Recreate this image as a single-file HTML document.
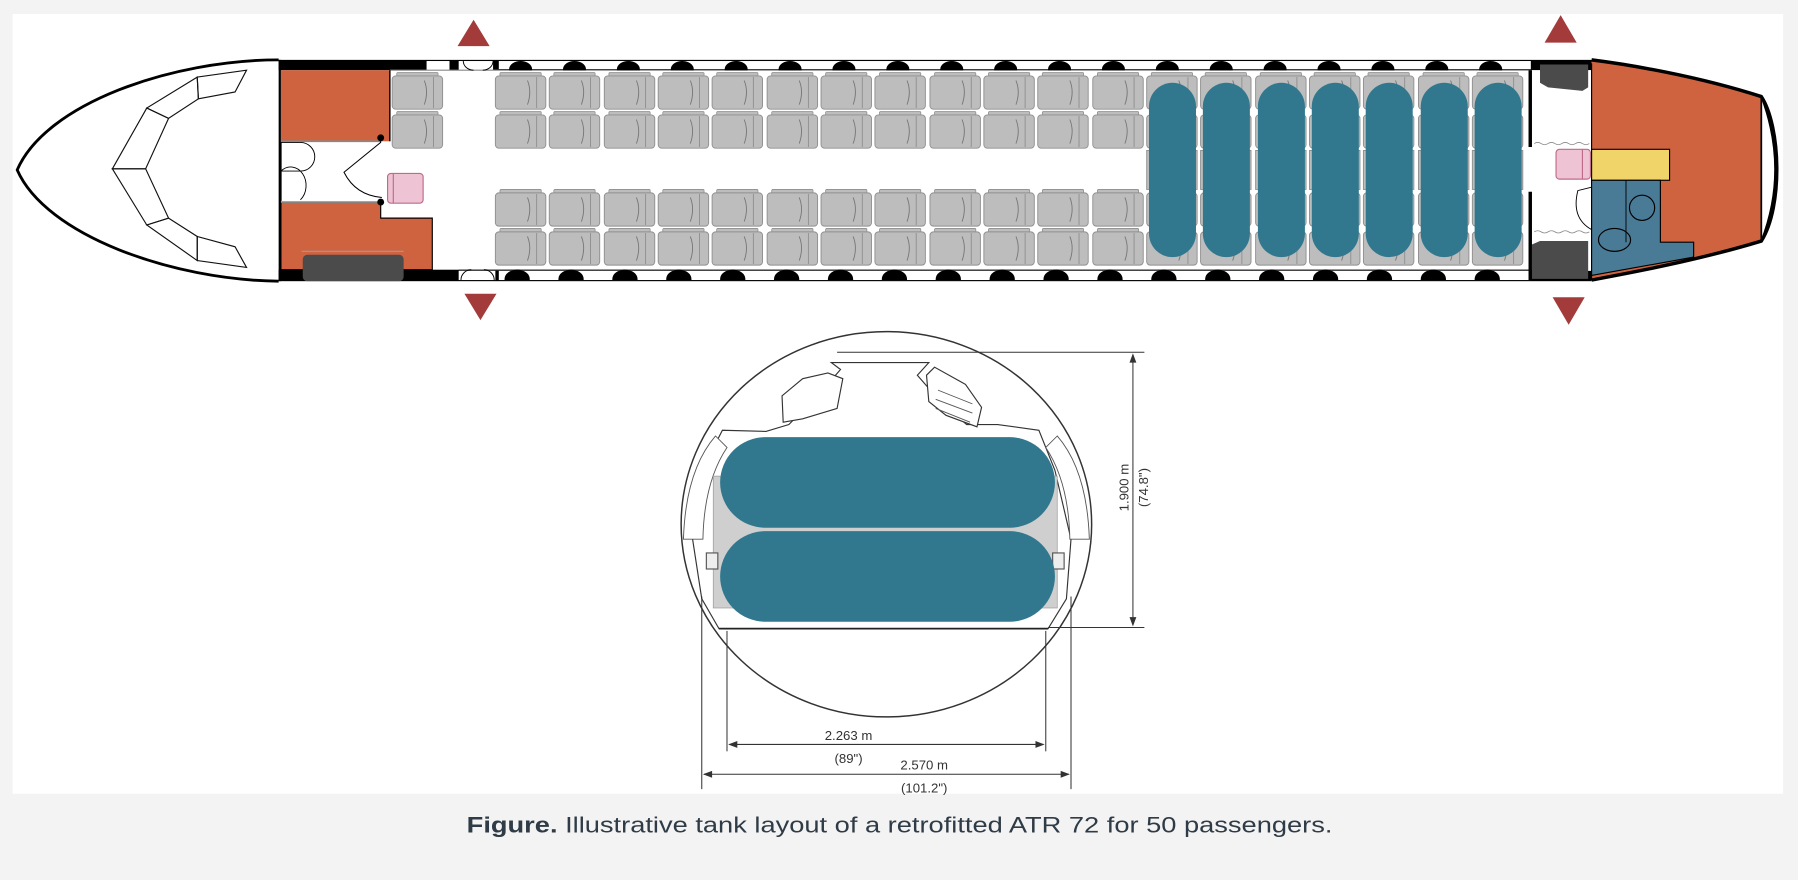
<!DOCTYPE html>
<html><head><meta charset="utf-8"><style>
html,body{margin:0;padding:0;background:#f3f3f3;}
svg{display:block;}
</style></head><body>
<svg width="1798" height="880" viewBox="0 0 1568 767" xmlns="http://www.w3.org/2000/svg" font-family="Liberation Sans, Arial, sans-serif">
<defs>
 <g id="seat">
  <rect x="4" y="0" width="36" height="4" rx="1" fill="#bdbdbd" stroke="#8f8f8f" stroke-width="0.7"/>
  <rect x="0" y="3" width="44" height="29" rx="3" fill="#bdbdbd" stroke="#8f8f8f" stroke-width="0.8"/>
  <line x1="36" y1="4" x2="36" y2="31" stroke="#8f8f8f" stroke-width="0.8"/>
  <path d="M28,7 Q32,17 28,28" fill="none" stroke="#777" stroke-width="0.8"/>
 </g>
 <g id="pair">
  <use href="#seat" x="0" y="0"/>
  <use href="#seat" x="0" y="34"/>
 </g>
</defs>
<rect width="1568" height="767" fill="#f3f3f3"/>
<rect x="11" y="12" width="1544" height="680" fill="#fff"/>

<!-- arrows -->
<polygon points="413,17 399,40 427,40" fill="#a33b3b"/>
<polygon points="405,256 433,256 419,279" fill="#a33b3b"/>
<polygon points="1361,13 1347,37 1375,37" fill="#a33b3b"/>
<polygon points="1354,259 1382,259 1368,283" fill="#a33b3b"/>

<!-- nose -->
<path d="M243,52 C150,52 40,90 15,148 C40,205 150,244 243,245" fill="#fff" stroke="#000" stroke-width="2.5"/>
<g fill="none" stroke="#111" stroke-width="1">
<polygon points="215,61 205,80 173,86 172,67"/>
<polygon points="172,67 173,86 147,103 128,94"/>
<polygon points="128,94 147,103 127,147 98,147"/>
<polygon points="98,147 127,147 147,190 128,196"/>
<polygon points="128,196 147,190 172,206 172,227"/>
<polygon points="172,227 172,206 205,215 215,233"/>
</g>

<!-- fuselage body walls -->
<rect x="243" y="52" width="1145" height="9" fill="#000"/>
<rect x="243" y="235" width="1145" height="10" fill="#000"/>
<rect x="243" y="52" width="2" height="193" fill="#000"/>
<g fill="#fff">
 <rect x="400" y="53" width="30" height="8"/>
 <rect x="372" y="53" width="20" height="8"/>
</g>
<g>
 <rect x="435" y="53" width="900" height="7" fill="#fff"/>
 <line x1="340" y1="61" x2="1335" y2="61" stroke="#888" stroke-width="1"/>
 <rect x="435" y="236" width="900" height="8" fill="#fff"/>
 <line x1="400" y1="235" x2="1335" y2="235" stroke="#888" stroke-width="1"/>
</g>
<g fill="#000">
<path d="M444,60 a10,7 0 0 1 20,0 v1h-20z"/><path d="M491,60 a10,7 0 0 1 20,0 v1h-20z"/><path d="M538,60 a10,7 0 0 1 20,0 v1h-20z"/><path d="M585,60 a10,7 0 0 1 20,0 v1h-20z"/><path d="M632,60 a10,7 0 0 1 20,0 v1h-20z"/><path d="M679,60 a10,7 0 0 1 20,0 v1h-20z"/><path d="M726,60 a10,7 0 0 1 20,0 v1h-20z"/><path d="M773,60 a10,7 0 0 1 20,0 v1h-20z"/><path d="M820,60 a10,7 0 0 1 20,0 v1h-20z"/><path d="M867,60 a10,7 0 0 1 20,0 v1h-20z"/><path d="M914,60 a10,7 0 0 1 20,0 v1h-20z"/><path d="M961,60 a10,7 0 0 1 20,0 v1h-20z"/><path d="M1008,60 a10,7 0 0 1 20,0 v1h-20z"/><path d="M1055,60 a10,7 0 0 1 20,0 v1h-20z"/><path d="M1102,60 a10,7 0 0 1 20,0 v1h-20z"/><path d="M1149,60 a10,7 0 0 1 20,0 v1h-20z"/><path d="M1196,60 a10,7 0 0 1 20,0 v1h-20z"/><path d="M1243,60 a10,7 0 0 1 20,0 v1h-20z"/><path d="M1290,60 a10,7 0 0 1 20,0 v1h-20z"/>
<path d="M440,244 v-1 a11,8 0 0 1 22,0 v1z"/><path d="M487,244 v-1 a11,8 0 0 1 22,0 v1z"/><path d="M534,244 v-1 a11,8 0 0 1 22,0 v1z"/><path d="M581,244 v-1 a11,8 0 0 1 22,0 v1z"/><path d="M628,244 v-1 a11,8 0 0 1 22,0 v1z"/><path d="M675,244 v-1 a11,8 0 0 1 22,0 v1z"/><path d="M722,244 v-1 a11,8 0 0 1 22,0 v1z"/><path d="M769,244 v-1 a11,8 0 0 1 22,0 v1z"/><path d="M816,244 v-1 a11,8 0 0 1 22,0 v1z"/><path d="M863,244 v-1 a11,8 0 0 1 22,0 v1z"/><path d="M910,244 v-1 a11,8 0 0 1 22,0 v1z"/><path d="M957,244 v-1 a11,8 0 0 1 22,0 v1z"/><path d="M1004,244 v-1 a11,8 0 0 1 22,0 v1z"/><path d="M1051,244 v-1 a11,8 0 0 1 22,0 v1z"/><path d="M1098,244 v-1 a11,8 0 0 1 22,0 v1z"/><path d="M1145,244 v-1 a11,8 0 0 1 22,0 v1z"/><path d="M1192,244 v-1 a11,8 0 0 1 22,0 v1z"/><path d="M1239,244 v-1 a11,8 0 0 1 22,0 v1z"/><path d="M1286,244 v-1 a11,8 0 0 1 22,0 v1z"/>
</g>
<rect x="400" y="236" width="32" height="8" fill="#fff"/>
<path d="M402,244 a9,9 0 0 1 9,-9 M431,244 a9,9 0 0 0 -9,-9" fill="none" stroke="#000" stroke-width="0.8"/>
<path d="M404,53 a9,8 0 0 0 9,8 M430,53 a9,8 0 0 1 -9,8" fill="none" stroke="#000" stroke-width="0.8"/>

<!-- front galley -->
<rect x="245" y="61" width="95" height="62" fill="#d0633f"/>
<line x1="340" y1="61" x2="340" y2="123" stroke="#000" stroke-width="1.2"/>
<path d="M245,176 H332 V190 H377 V235 H245 Z" fill="#d0633f" stroke="#000" stroke-width="1"/>
<line x1="245" y1="123" x2="332" y2="123" stroke="#888" stroke-width="1.5"/>
<line x1="245" y1="176" x2="332" y2="176" stroke="#888" stroke-width="1.5"/>
<path d="M245,124 H262 a10,10 0 0 1 0,25 H245 M245,149 a10,12 0 0 1 17,25" fill="none" stroke="#000" stroke-width="0.8"/>
<line x1="245" y1="124" x2="245" y2="175" stroke="#000" stroke-width="1.2"/>
<circle cx="332" cy="120" r="3" fill="#000"/><circle cx="332" cy="176" r="3" fill="#000"/>
<path d="M332,120 V124 L300,150 Q310,170 333,172" fill="none" stroke="#000" stroke-width="0.9"/>
<rect x="338" y="151" width="31" height="26" rx="3" fill="#eec3d3" stroke="#c06a8a" stroke-width="1"/>
<line x1="343" y1="151" x2="343" y2="177" stroke="#c06a8a"/>
<rect x="264" y="222" width="88" height="23" rx="4" fill="#4b4b4b"/>
<line x1="263" y1="219" x2="352" y2="219" stroke="#999" stroke-width="1"/>

<!-- seats -->
<use href="#pair" x="342" y="63"/>
<g>
<use href="#pair" x="432" y="63"/><use href="#pair" x="479" y="63"/><use href="#pair" x="527" y="63"/><use href="#pair" x="574" y="63"/><use href="#pair" x="621" y="63"/><use href="#pair" x="669" y="63"/><use href="#pair" x="716" y="63"/><use href="#pair" x="763" y="63"/><use href="#pair" x="811" y="63"/><use href="#pair" x="858" y="63"/><use href="#pair" x="905" y="63"/><use href="#pair" x="953" y="63"/>
<use href="#pair" x="432" y="165"/><use href="#pair" x="479" y="165"/><use href="#pair" x="527" y="165"/><use href="#pair" x="574" y="165"/><use href="#pair" x="621" y="165"/><use href="#pair" x="669" y="165"/><use href="#pair" x="716" y="165"/><use href="#pair" x="763" y="165"/><use href="#pair" x="811" y="165"/><use href="#pair" x="858" y="165"/><use href="#pair" x="905" y="165"/><use href="#pair" x="953" y="165"/>
<use href="#pair" x="1000" y="63"/><use href="#pair" x="1047" y="63"/><use href="#pair" x="1095" y="63"/><use href="#pair" x="1142" y="63"/><use href="#pair" x="1189" y="63"/><use href="#pair" x="1237" y="63"/><use href="#pair" x="1284" y="63"/>
<use href="#pair" x="1000" y="165"/><use href="#pair" x="1047" y="165"/><use href="#pair" x="1095" y="165"/><use href="#pair" x="1142" y="165"/><use href="#pair" x="1189" y="165"/><use href="#pair" x="1237" y="165"/><use href="#pair" x="1284" y="165"/>
</g>
<g fill="#bdbdbd" stroke="#8f8f8f" stroke-width="0.8">
<rect x="1000" y="131" width="44" height="34"/><rect x="1047" y="131" width="44" height="34"/><rect x="1095" y="131" width="44" height="34"/><rect x="1142" y="131" width="44" height="34"/><rect x="1189" y="131" width="44" height="34"/><rect x="1237" y="131" width="44" height="34"/><rect x="1284" y="131" width="44" height="34"/>
</g>
<g fill="#31788e">
<rect x="1002" y="72" width="41" height="152" rx="20.5"/><rect x="1049" y="72" width="41" height="152" rx="20.5"/><rect x="1097" y="72" width="41" height="152" rx="20.5"/><rect x="1144" y="72" width="41" height="152" rx="20.5"/><rect x="1191" y="72" width="41" height="152" rx="20.5"/><rect x="1239" y="72" width="41" height="152" rx="20.5"/><rect x="1286" y="72" width="41" height="152" rx="20.5"/>
</g>

<!-- rear -->
<rect x="1336" y="61" width="52" height="175" fill="#fff"/>
<rect x="1333" y="61" width="3" height="67" fill="#000"/>
<rect x="1333" y="167" width="3" height="77" fill="#000"/>
<path d="M1343,56 H1385 V76 L1380,79 L1350,76 L1343,72 Z" fill="#4b4b4b"/>
<path d="M1336,213 L1343,210 H1385 V243 H1336 Z" fill="#4b4b4b"/>
<path d="M1388,52 L1485,69 L1536,84 L1536,210 L1480,225 L1388,244 Z" fill="#d0633f"/>
<path d="M1388,52 C1420,56 1480,66 1536,84 C1553,110 1555,180 1536,210 C1480,227 1420,238 1388,244" fill="none" stroke="#000" stroke-width="3"/>
<path d="M1536,84 Q1560,148 1536,210" fill="#fff" stroke="#000" stroke-width="1.5"/>
<line x1="1536" y1="84" x2="1536" y2="210" stroke="#000" stroke-width="1.5"/>
<line x1="1388" y1="55" x2="1388" y2="244" stroke="#000" stroke-width="1"/>
<rect x="1388" y="130" width="68" height="27" fill="#f0d46a" stroke="#000" stroke-width="1"/>
<path d="M1388,157 H1448 V211 H1477 V224 L1388,240 Z" fill="#4a7b96" stroke="#000" stroke-width="1"/>
<line x1="1418" y1="157" x2="1418" y2="211" stroke="#000" stroke-width="0.8"/>
<circle cx="1432" cy="181" r="11" fill="none" stroke="#000" stroke-width="1"/>
<ellipse cx="1408" cy="209" rx="14" ry="10" fill="none" stroke="#000" stroke-width="1"/>
<rect x="1357" y="130" width="30" height="26" rx="3" fill="#eec3d3" stroke="#c06a8a"/>
<line x1="1380" y1="130" x2="1380" y2="156" stroke="#c06a8a"/>
<path d="M1388,163 L1376,166 Q1370,190 1388,200" fill="none" stroke="#000" stroke-width="0.8"/>
<path d="M1338,125 q3,-2 6,0 t6,0 t6,0 t6,0 t6,0 t6,0 t6,0 t6,0 M1338,202 q3,-2 6,0 t6,0 t6,0 t6,0 t6,0 t6,0 t6,0 t6,0" fill="none" stroke="#888" stroke-width="0.7"/>

<!-- cross-section -->
<ellipse cx="773" cy="457" rx="179" ry="168" fill="#fff" stroke="#333" stroke-width="1.3"/>
<path d="M627,548 L612,522 L604,470 L612,410 L630,375 L668,376 L688,370 L720,337 L733,322 L725,316 L810,316 L800,327 L820,350 L843,370 L870,370 L906,375 L920,410 L934,470 L930,522 L914,548 Z" fill="#fff" stroke="#333" stroke-width="1"/>
<path d="M683,368 L682,345 L700,330 L722,325 L735,330 L730,356 L700,365 Z" fill="#fff" stroke="#333" stroke-width="1"/>
<path d="M808,327 L815,320 L842,335 L856,355 L852,372 L825,362 L810,350 Z" fill="#fff" stroke="#333" stroke-width="1"/>
<g stroke="#555" stroke-width="0.8"><line x1="818" y1="340" x2="848" y2="352"/><line x1="816" y1="348" x2="848" y2="360"/><line x1="816" y1="356" x2="846" y2="368"/></g>
<path d="M596,470 Q598,410 624,380 L634,390 Q614,420 613,470 Z" fill="#fff" stroke="#555" stroke-width="0.8"/>
<path d="M950,470 Q948,410 922,380 L912,390 Q932,420 933,470 Z" fill="#fff" stroke="#555" stroke-width="0.8"/>
<rect x="622" y="415" width="300" height="115" fill="#cfcfcf" stroke="#999" stroke-width="0.6"/>
<rect x="616" y="482" width="10" height="14" fill="#eee" stroke="#555"/>
<rect x="918" y="482" width="10" height="14" fill="#eee" stroke="#555"/>
<rect x="628" y="381" width="292" height="79" rx="39.5" fill="#31788e"/>
<rect x="628" y="463" width="292" height="79" rx="39.5" fill="#31788e"/>
<line x1="627" y1="548" x2="914" y2="548" stroke="#222" stroke-width="1.5"/>
<g stroke="#333" stroke-width="0.9" fill="none">
 <line x1="730" y1="307" x2="998" y2="307"/>
 <line x1="914" y1="547" x2="998" y2="547"/>
 <line x1="988" y1="309" x2="988" y2="545"/>
 <line x1="634" y1="550" x2="634" y2="655"/>
 <line x1="912" y1="550" x2="912" y2="655"/>
 <line x1="612" y1="520" x2="612" y2="688"/>
 <line x1="934" y1="520" x2="934" y2="688"/>
 <line x1="636" y1="649" x2="910" y2="649"/>
 <line x1="614" y1="675" x2="932" y2="675"/>
</g>
<g fill="#333">
 <polygon points="988,308 985,316 991,316"/><polygon points="988,546 985,538 991,538"/>
 <polygon points="635,649 643,646 643,652"/><polygon points="911,649 903,646 903,652"/>
 <polygon points="613,675 621,672 621,678"/><polygon points="933,675 925,672 925,678"/>
</g>
<g fill="#333" font-size="11.5">
 <text x="740" y="645" text-anchor="middle">2.263 m</text>
 <text x="740" y="665" text-anchor="middle">(89")</text>
 <text x="806" y="671" text-anchor="middle">2.570 m</text>
 <text x="806" y="691" text-anchor="middle">(101.2")</text>
 <text transform="translate(984,425) rotate(-90)" text-anchor="middle">1.900 m</text>
 <text transform="translate(1001,425) rotate(-90)" text-anchor="middle">(74.8")</text>
</g>

<!-- caption -->
<text x="407" y="726" font-size="19.5" fill="#2f3b46" textLength="755" lengthAdjust="spacingAndGlyphs"><tspan font-weight="bold">Figure.</tspan> Illustrative tank layout of a retrofitted ATR 72 for 50 passengers.</text>
</svg>
</body></html>
